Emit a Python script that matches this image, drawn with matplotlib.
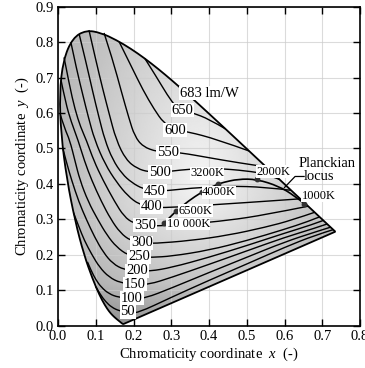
import numpy as np
import matplotlib
matplotlib.use("Agg")
import matplotlib.pyplot as plt
from matplotlib.path import Path
from matplotlib.patches import PathPatch

plt.rcParams["font.family"] = ["Liberation Serif", "DejaVu Serif"]
plt.rcParams["mathtext.fontset"] = "custom"
plt.rcParams["mathtext.rm"] = "Liberation Serif"
plt.rcParams["mathtext.it"] = "Liberation Serif:italic"

# --- spectral locus (CIE 1931), 380 -> 700 nm ---
locus_x = [0.1741, 0.1726, 0.1714, 0.1689, 0.1644, 0.1566, 0.1510, 0.1440, 0.1355,
           0.1241, 0.1096, 0.0913, 0.0687, 0.0454, 0.0235, 0.0082, 0.0039, 0.0139,
           0.0389, 0.0743, 0.1142, 0.1547, 0.1929, 0.2296, 0.2658, 0.3016, 0.3373,
           0.3731, 0.4087, 0.4441, 0.4788, 0.5125, 0.5448, 0.5752, 0.6029, 0.6270,
           0.6658, 0.6915, 0.7079, 0.7190, 0.7260, 0.7300, 0.7347]
locus_y = [0.0050, 0.0048, 0.0051, 0.0069, 0.0109, 0.0177, 0.0227, 0.0297, 0.0399,
           0.0578, 0.0868, 0.1327, 0.2007, 0.2950, 0.4127, 0.5384, 0.6548, 0.7502,
           0.8120, 0.8338, 0.8262, 0.8059, 0.7816, 0.7543, 0.7243, 0.6923, 0.6589,
           0.6245, 0.5896, 0.5547, 0.5202, 0.4866, 0.4544, 0.4242, 0.3965, 0.3725,
           0.3340, 0.3083, 0.2920, 0.2809, 0.2740, 0.2700, 0.2653]

# --- luminous efficacy contours (lm/W) ---
levels = [50, 100, 150, 200, 250, 300, 350, 400, 450, 500, 550, 600, 650]
contour_x = [
    [0.100, 0.112, 0.126, 0.142, 0.162, 0.185, 0.21, 0.30, 0.40, 0.50, 0.60, 0.68, 0.729],
    [0.078, 0.088, 0.100, 0.115, 0.135, 0.160, 0.196, 0.23, 0.30, 0.40, 0.50, 0.60, 0.68, 0.722],
    [0.041, 0.055, 0.070, 0.090, 0.110, 0.135, 0.165, 0.204, 0.24, 0.30, 0.40, 0.50, 0.60, 0.68, 0.713],
    [0.0128, 0.024, 0.036, 0.055, 0.075, 0.097, 0.120, 0.145, 0.175, 0.209, 0.245, 0.30, 0.40, 0.50, 0.60, 0.67, 0.703],
    [0.006, 0.018, 0.031, 0.045, 0.058, 0.080, 0.105, 0.130, 0.155, 0.185, 0.215, 0.25, 0.30, 0.40, 0.50, 0.60, 0.66, 0.693],
    [0.008, 0.020, 0.035, 0.053, 0.070, 0.089, 0.115, 0.140, 0.165, 0.192, 0.222, 0.255, 0.35, 0.45, 0.55, 0.62, 0.68],
    [0.016, 0.030, 0.045, 0.060, 0.075, 0.095, 0.119, 0.150, 0.175, 0.200, 0.230, 0.262, 0.35, 0.45, 0.55, 0.662],
    [0.034, 0.050, 0.066, 0.080, 0.097, 0.125, 0.155, 0.185, 0.215, 0.248, 0.28, 0.35, 0.45, 0.55, 0.642],
    [0.056, 0.075, 0.092, 0.108, 0.124, 0.145, 0.170, 0.195, 0.225, 0.257, 0.29, 0.35, 0.45, 0.55, 0.617],
    [0.082, 0.100, 0.118, 0.135, 0.154, 0.180, 0.210, 0.240, 0.270, 0.30, 0.35, 0.42, 0.50, 0.55, 0.586],
    [0.122, 0.145, 0.168, 0.188, 0.203, 0.225, 0.262, 0.291, 0.325, 0.40, 0.47, 0.551],
    [0.162, 0.195, 0.225, 0.255, 0.280, 0.310, 0.345, 0.42, 0.506],
    [0.230, 0.262, 0.290, 0.312, 0.329, 0.355, 0.40, 0.444],
]
contour_y = [
    [0.110, 0.088, 0.068, 0.052, 0.042, 0.037, 0.035, 0.080, 0.128, 0.174, 0.221, 0.255, 0.271],
    [0.180, 0.155, 0.130, 0.108, 0.090, 0.080, 0.077, 0.077, 0.106, 0.150, 0.193, 0.236, 0.264, 0.278],
    [0.319, 0.280, 0.240, 0.200, 0.165, 0.137, 0.121, 0.116, 0.116, 0.136, 0.173, 0.211, 0.249, 0.275, 0.287],
    [0.500, 0.455, 0.411, 0.350, 0.300, 0.250, 0.207, 0.175, 0.158, 0.154, 0.154, 0.164, 0.193, 0.226, 0.261, 0.284, 0.297],
    [0.596, 0.555, 0.524, 0.465, 0.411, 0.350, 0.300, 0.255, 0.222, 0.199, 0.193, 0.193, 0.196, 0.213, 0.240, 0.272, 0.293, 0.307],
    [0.693, 0.630, 0.575, 0.524, 0.465, 0.411, 0.350, 0.300, 0.262, 0.240, 0.233, 0.232, 0.240, 0.255, 0.278, 0.298, 0.320],
    [0.757, 0.680, 0.610, 0.560, 0.524, 0.465, 0.411, 0.350, 0.308, 0.289, 0.283, 0.281, 0.287, 0.297, 0.313, 0.337],
    [0.800, 0.720, 0.650, 0.590, 0.524, 0.455, 0.405, 0.366, 0.342, 0.334, 0.333, 0.337, 0.344, 0.351, 0.358],
    [0.823, 0.740, 0.660, 0.590, 0.524, 0.468, 0.428, 0.404, 0.386, 0.380, 0.381, 0.388, 0.394, 0.391, 0.382],
    [0.834, 0.750, 0.670, 0.600, 0.524, 0.468, 0.443, 0.434, 0.433, 0.436, 0.442, 0.444, 0.437, 0.428, 0.413],
    [0.826, 0.750, 0.660, 0.585, 0.535, 0.505, 0.491, 0.490, 0.488, 0.474, 0.461, 0.448],
    [0.801, 0.730, 0.665, 0.610, 0.572, 0.552, 0.547, 0.526, 0.493],
    [0.754, 0.700, 0.650, 0.618, 0.608, 0.601, 0.583, 0.555],
]
label_x = [0.185, 0.196, 0.204, 0.209, 0.215, 0.222, 0.230, 0.248, 0.257, 0.270, 0.291, 0.310, 0.329]
label_y = [0.039, 0.078, 0.117, 0.155, 0.194, 0.234, 0.284, 0.335, 0.380, 0.433, 0.490, 0.552, 0.608]

# --- Planckian locus ---
planck_T = [1000, 1200, 1500, 2000, 2500, 3000, 3200, 3500, 4000, 5000, 6500, 8000, 10000]
planck_x = [0.6528, 0.6251, 0.5857, 0.5267, 0.4770, 0.4369, 0.4234, 0.4053, 0.3805, 0.3451, 0.3135, 0.2952, 0.2807]
planck_y = [0.3444, 0.3674, 0.3931, 0.4133, 0.4137, 0.4041, 0.3990, 0.3907, 0.3768, 0.3516, 0.3237, 0.3048, 0.2884]
marked_T = [1000, 2000, 3200, 4000, 6500, 10000]
marked_text = ["1000K", "2000K", "3200K", "4000K", "6500K", "10 000K"]
marked_tx = [0.645, 0.526, 0.350, 0.381, 0.319, 0.288]
marked_ty = [0.366, 0.435, 0.430, 0.376, 0.325, 0.287]


def smooth_path(xs, ys, closed=False):
    p = np.column_stack([xs, ys])
    verts = [p[0]]
    codes = [Path.MOVETO]
    n = len(p)
    for i in range(1, n - 1):
        end = p[i + 1] if i == n - 2 else (p[i] + p[i + 1]) / 2
        verts += [p[i], end]
        codes += [Path.CURVE3, Path.CURVE3]
    if closed:
        verts += [p[0], p[0]]
        codes += [Path.LINETO, Path.CLOSEPOLY]
    return Path(verts, codes)


fig = plt.figure(figsize=(3.65, 3.68), dpi=100)
ax = fig.add_axes([58 / 365, 1 - 325.7 / 368, 302 / 365, 319 / 368])

# grey shading inside the locus
gx, gy = np.meshgrid(np.linspace(0, 0.8, 400), np.linspace(0, 0.9, 450))
dy = np.where(gy > 0.40, 0.45, 1.0) * (gy - 0.40)
r = np.hypot(0.9 * (gx - 0.38), dy)
shade = 0.96 - 0.68 * r - 0.8 * np.clip(0.12 - gy, 0, None)
im = ax.imshow(shade, extent=[0, 0.8, 0, 0.9], origin="lower", cmap="gray",
               vmin=0, vmax=1, interpolation="bilinear", aspect="auto", zorder=1)
outline = PathPatch(smooth_path(locus_x, locus_y, closed=True),
                    fc="none", ec="black", lw=1.3, zorder=4)
ax.add_patch(outline)
im.set_clip_path(outline)

# contours
for xs, ys in zip(contour_x, contour_y):
    ax.add_patch(PathPatch(smooth_path(xs, ys), fc="none", ec="black", lw=1.0, zorder=3))

for lev, lx, ly in zip(levels, label_x, label_y):
    ax.text(lx, ly, str(lev), fontsize=10.5, ha="center", va="center", zorder=6,
            bbox=dict(boxstyle="square,pad=0.05", fc="white", ec="none"))
ax.text(0.400, 0.656, "683 lm/W", fontsize=10.5, ha="center", va="center", zorder=6,
        bbox=dict(boxstyle="square,pad=0.05", fc="white", ec="none"))

# Planckian locus
ax.add_patch(PathPatch(smooth_path(planck_x, planck_y), fc="none", ec="black", lw=1.2, zorder=5))
mx = [planck_x[planck_T.index(t)] for t in marked_T]
my = [planck_y[planck_T.index(t)] for t in marked_T]
ax.plot(mx, my, "o", color="#333333", ms=3.2, zorder=6)
for txt, tx, ty in zip(marked_text, marked_tx, marked_ty):
    ax.text(tx, ty, txt, fontsize=9, ha="left", va="center", zorder=6,
            bbox=dict(boxstyle="square,pad=0.02", fc="white", ec="none"))

ax.text(0.712, 0.458, "Planckian", fontsize=10.5, ha="center", va="center", zorder=6)
ax.text(0.692, 0.421, "locus", fontsize=10.5, ha="center", va="center", zorder=6)
ax.plot([0.652, 0.628, 0.600], [0.421, 0.421, 0.390], color="black", lw=0.9, zorder=6)

ax.set_xlim(0, 0.8)
ax.set_ylim(0, 0.9)
ax.set_xticks(np.arange(0, 0.81, 0.1))
ax.set_yticks(np.arange(0, 0.91, 0.1))
ax.set_xticklabels([f"{v:.1f}" for v in np.arange(0, 0.81, 0.1)])
ax.set_yticklabels([f"{v:.1f}" for v in np.arange(0, 0.91, 0.1)])
ax.grid(True, color="#cccccc", lw=0.8, alpha=0.7)
ax.tick_params(direction="in", top=True, right=True, length=5, width=1.0,
               labelsize=10.5, pad=3)
for s in ax.spines.values():
    s.set_linewidth(1.2)
ax.set_xlabel("Chromaticity coordinate  $x$  (-)", fontsize=10.5, labelpad=2)
ax.set_ylabel("Chromaticity coordinate  $y$  (-)", fontsize=10.5, labelpad=3)

fig.savefig("out.png", dpi=100)
